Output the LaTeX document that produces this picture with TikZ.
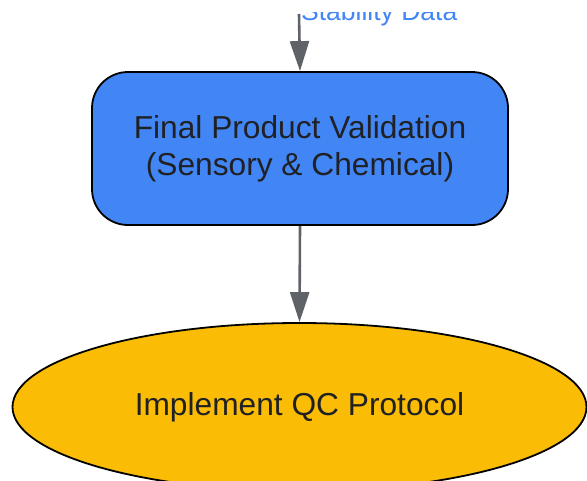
\documentclass[tikz,border=0pt]{standalone}
\usepackage{fontspec}
\setmainfont{Liberation Sans}
\usepackage{xcolor}
\usetikzlibrary{positioning,shapes.geometric,arrows.meta}

\definecolor{stepblue}{HTML}{4285F4}
\definecolor{stepgold}{HTML}{FABC05}
\definecolor{flowgray}{HTML}{5F6368}
\definecolor{inkdark}{HTML}{202124}

\tikzset{
  stepbox/.style={draw=black, line width=1.8pt, fill=stepblue, rounded corners=36pt,
    minimum width=416pt, minimum height=153pt, align=center, text=inkdark,
    font=\fontsize{31.7}{37}\selectfont},
  endoval/.style={draw=black, line width=1.8pt, fill=stepgold, ellipse,
    minimum width=574pt, minimum height=168pt, inner sep=0pt, text=inkdark,
    font=\fontsize{31.7}{37}\selectfont},
  flow/.style={draw=flowgray, line width=2.6pt, -{Triangle[length=30pt,width=19pt]}},
  flowlabel/.style={text=stepblue, font=\fontsize{26.5}{30}\selectfont, inner sep=0pt}
}

\begin{document}
\begin{tikzpicture}[x=1pt, y=-1pt]
  \useasboundingbox (0,0) rectangle (587,480);

  % Nodes
  \coordinate (src) at (299,14);
  \node (valid) [stepbox] at (300,148.5) {Final Product Validation\\(Sensory \& Chemical)};
  \node (qc) [endoval] at (299.5,407) {Implement QC Protocol};
  % label of the incoming edge, only its lower part shows
  \begin{scope}
    \clip (280,12) rectangle (587,40);
    \node (stab) [flowlabel, anchor=base west] at (301,20) {Stability Data};
  \end{scope}

  % Arrows
  \draw[flow] (src) -- (valid.north);
  \draw[flow] (valid.south) -- (qc.north);
\end{tikzpicture}
\end{document}
